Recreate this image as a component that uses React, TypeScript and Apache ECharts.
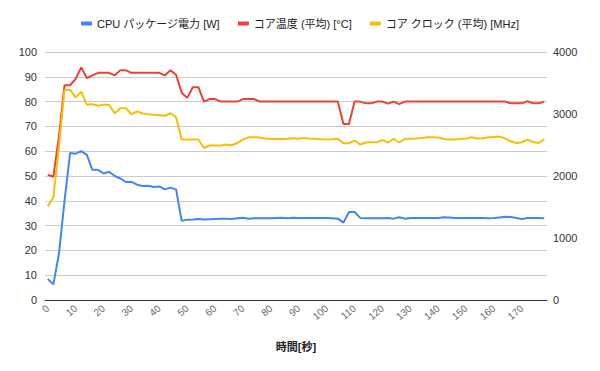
import React, { useEffect, useRef } from "react";
import * as echarts from "echarts";

const times: string[] = Array.from({ length: 90 }, (_, i) => String(i * 2));

const powerW: number[] = [
  8.5, 6.3, 18.7, 40, 59.3, 59, 60, 58.5, 52.5, 52.5,
  51, 51.7, 50, 49, 47.6, 47.6, 46.5, 46, 46.1, 45.6,
  45.8, 44.6, 45.3, 44.6, 31.9, 32.4, 32.5, 32.7, 32.5, 32.6,
  32.7, 32.8, 32.8, 32.7, 33, 33.2, 32.8, 33, 33, 33,
  33, 33.1, 33.2, 33, 33.2, 33.1, 33.1, 33.1, 33.1, 33.1,
  33.1, 33, 32.8, 31.2, 35.5, 35.5, 33.1, 33, 33, 33,
  33, 33.1, 32.8, 33.4, 32.8, 33.1, 33.1, 33.1, 33.1, 33.1,
  33.1, 33.4, 33.3, 33.1, 33.1, 33.1, 33.1, 33.1, 33.1, 33,
  33.1, 33.3, 33.6, 33.5, 33.1, 32.7, 33.1, 33.1, 33.1, 33,
];

const coreTemp: number[] = [
  50.5, 49.7, 66, 86.6, 86.6, 89.2, 93.8, 89.5, 90.6, 91.6,
  91.6, 91.6, 90.6, 92.6, 92.6, 91.6, 91.6, 91.6, 91.6, 91.6,
  91.6, 90.6, 92.6, 90.8, 83.6, 81.5, 85.8, 85.8, 80, 81,
  81, 80, 80, 80, 80, 81, 81, 81, 80, 80,
  80, 80, 80, 80, 80, 80, 80, 80, 80, 80,
  80, 80, 80, 71, 71, 80, 80, 79.3, 79.3, 80,
  80, 79.2, 80, 79, 80, 80, 80, 80, 80, 80,
  80, 80, 80, 80, 80, 80, 80, 80, 80, 80,
  80, 80, 80, 79.3, 79.3, 79.3, 80.2, 79.3, 79.3, 80,
];

const coreClock: number[] = [
  1512, 1656, 2480, 3388, 3388, 3268, 3360, 3148, 3156, 3132,
  3148, 3148, 3012, 3092, 3092, 2996, 3040, 3008, 2996, 2988,
  2980, 2972, 3012, 2948, 2588, 2588, 2588, 2588, 2452, 2492,
  2492, 2492, 2508, 2496, 2532, 2588, 2624, 2624, 2620, 2604,
  2596, 2596, 2596, 2600, 2608, 2600, 2612, 2600, 2600, 2592,
  2588, 2592, 2600, 2528, 2528, 2572, 2508, 2540, 2544, 2544,
  2580, 2540, 2600, 2540, 2596, 2600, 2604, 2612, 2624, 2624,
  2620, 2596, 2588, 2588, 2596, 2604, 2624, 2604, 2608, 2624,
  2628, 2636, 2604, 2560, 2532, 2544, 2588, 2548, 2532, 2592,
];

const seriesNames = ["CPU パッケージ電力 [W]", "コア温度 (平均) [°C]", "コア クロック (平均) [MHz]"];
const seriesColors = ["#4285F4", "#EA4335", "#FBBC04"];

export default function App() {
  const ref = useRef<HTMLDivElement>(null);
  useEffect(() => {
    document.body.style.margin = "0";
    if (!ref.current) return;
    const chart = echarts.init(ref.current, undefined, { renderer: "svg" });
    const font = "Arial, 'Liberation Sans', 'Noto Sans CJK JP', sans-serif";
    chart.setOption({
      animation: false,
      textStyle: { fontFamily: font },
      legend: {
        top: 13,
        left: "center",
        icon: "rect",
        itemWidth: 11,
        itemHeight: 4,
        itemGap: 18,
        textStyle: { fontSize: 11, color: "#222", fontFamily: font },
        data: seriesNames,
      },
      grid: { left: 45, right: 53, top: 52, bottom: 71, containLabel: false },
      xAxis: {
        type: "category",
        data: times,
        boundaryGap: true,
        name: "時間[秒]",
        nameLocation: "middle",
        nameGap: 41,
        nameTextStyle: { fontSize: 11, color: "#222", fontWeight: "bold", fontFamily: font },
        axisLine: { lineStyle: { color: "#333", width: 1 } },
        axisTick: { show: false },
        axisLabel: {
          interval: (idx: number) => idx % 5 === 0 && idx <= 85,
          rotate: 40,
          fontSize: 10,
          color: "#666",
          margin: 7,
          fontFamily: font,
        },
        splitLine: { show: false },
      },
      yAxis: [
        {
          type: "value",
          min: 0,
          max: 100,
          interval: 10,
          axisLine: { show: false },
          axisTick: { show: false },
          axisLabel: { fontSize: 11, color: "#333", margin: 8, fontFamily: font },
          splitLine: { lineStyle: { color: "#cccccc", width: 1 } },
        },
        {
          type: "value",
          min: 0,
          max: 4000,
          interval: 1000,
          axisLine: { show: false },
          axisTick: { show: false },
          axisLabel: {
            fontSize: 11,
            color: "#333",
            margin: 6,
            fontFamily: font,
            formatter: (v: number) => String(v),
          },
          splitLine: { show: false },
        },
      ],
      series: [
        {
          name: seriesNames[0],
          type: "line",
          data: powerW,
          yAxisIndex: 0,
          showSymbol: false,
          color: seriesColors[0],
          lineStyle: { width: 2 },
        },
        {
          name: seriesNames[1],
          type: "line",
          data: coreTemp,
          yAxisIndex: 0,
          showSymbol: false,
          color: seriesColors[1],
          lineStyle: { width: 2 },
        },
        {
          name: seriesNames[2],
          type: "line",
          data: coreClock,
          yAxisIndex: 1,
          showSymbol: false,
          color: seriesColors[2],
          lineStyle: { width: 2 },
        },
      ],
    });
    return () => chart.dispose();
  }, []);
  return <div ref={ref} style={{ width: 600, height: 371 }} />;
}
